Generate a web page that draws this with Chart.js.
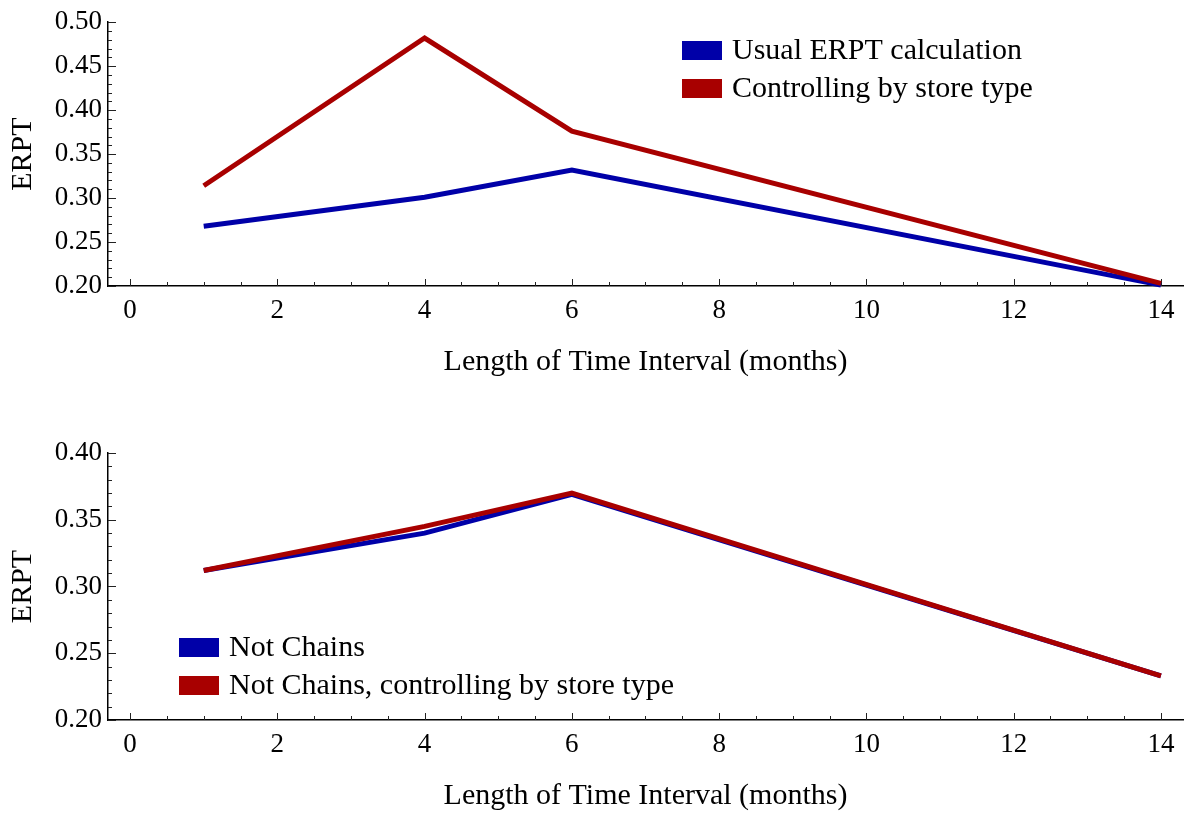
<!DOCTYPE html>
<html>
<head>
<meta charset="utf-8">
<script src="https://cdn.jsdelivr.net/npm/chart.js@4/dist/chart.umd.min.js"></script>
<style>
  body { margin: 0; background: #fff; }
  .wrap { position: relative; width: 1190px; height: 814px; }
  canvas { position: absolute; left: 0; }
  #topChart { top: 0; }
  #bottomChart { top: 400px; }
</style>
</head>
<body>
<div class="wrap">
  <canvas id="topChart" width="1190" height="400"></canvas>
  <canvas id="bottomChart" width="1190" height="414"></canvas>
</div>
<script>
// data
const months = [1, 4, 6, 14];
const usualErpt = [0.268, 0.301, 0.332, 0.201];
const storeTypeErpt = [0.314, 0.482, 0.376, 0.203];
const notChains = [0.312, 0.340, 0.369, 0.233];
const notChainsStoreType = [0.312, 0.345, 0.370, 0.233];

const xTicks = [0, 2, 4, 6, 8, 10, 12, 14];
const topYTicks = [0.20, 0.25, 0.30, 0.35, 0.40, 0.45, 0.50];
const bottomYTicks = [0.20, 0.25, 0.30, 0.35, 0.40];

const BLUE = "#0000a8";
const RED = "#a80000";
const FONT = "'Liberation Serif', 'DejaVu Serif', serif";

// inward tick marks, mathematica style
const innerTicks = {
    id: "innerTicks",
    beforeDatasetsDraw(chart, args, opts) {
        const { ctx, scales: { x, y } } = chart;
        ctx.save();
        ctx.strokeStyle = "#222";
        ctx.lineWidth = 1;
        ctx.beginPath();
        const nx = Math.round((xTicks[xTicks.length - 1] - xTicks[0]) / opts.xMinor);
        for (let i = 0; i <= nx; i++) {
            const px = Math.round(x.getPixelForValue(xTicks[0] + i * opts.xMinor)) + 0.5;
            const len = i % 4 === 0 ? 7 : 4;
            ctx.moveTo(px, y.bottom);
            ctx.lineTo(px, y.bottom - len);
        }
        const yMin = y.min, yMax = y.max;
        const ny = Math.round((yMax - yMin) / opts.yMinor);
        for (let i = 0; i <= ny; i++) {
            const py = Math.round(y.getPixelForValue(yMin + i * opts.yMinor)) + 0.5;
            const len = i % 5 === 0 ? 8 : 4;
            ctx.moveTo(x.left, py);
            ctx.lineTo(x.left + len, py);
        }
        ctx.stroke();
        ctx.restore();
    }
};

// legend drawn inside the plot
const boxLegend = {
    id: "boxLegend",
    afterDraw(chart, args, opts) {
        const ctx = chart.ctx;
        ctx.save();
        ctx.font = "30px " + FONT;
        ctx.textBaseline = "middle";
        chart.data.datasets.forEach((ds, i) => {
            const top = opts.y + i * opts.gap;
            ctx.fillStyle = ds.borderColor;
            ctx.fillRect(opts.x, top, 40, 19);
            ctx.fillStyle = "#000";
            ctx.fillText(ds.label, opts.x + 50, top + 10);
        });
        ctx.restore();
    }
};

function makeChart(id, labels, seriesA, seriesB, yTicks, legendPos, padTop, xHeight, xTitlePad) {
    return new Chart(document.getElementById(id), {
        type: "line",
        data: {
            datasets: [
                {
                    label: labels[0],
                    data: months.map((m, i) => ({ x: m, y: seriesA[i] })),
                    borderColor: BLUE,
                    borderWidth: 5,
                    pointRadius: 0,
                    tension: 0,
                    clip: false,
                    order: 1
                },
                {
                    label: labels[1],
                    data: months.map((m, i) => ({ x: m, y: seriesB[i] })),
                    borderColor: RED,
                    borderWidth: 5,
                    pointRadius: 0,
                    tension: 0,
                    clip: false,
                    order: 0
                }
            ]
        },
        options: {
            responsive: false,
            animation: false,
            layout: { padding: { top: padTop, right: 7, left: 0, bottom: 0 } },
            plugins: {
                legend: { display: false },
                tooltip: { enabled: false },
                innerTicks: { xMinor: 0.5, yMinor: 0.01 },
                boxLegend: legendPos
            },
            scales: {
                x: {
                    type: "linear",
                    min: -0.3,
                    max: 14.3,
                    afterBuildTicks: s => { s.ticks = xTicks.map(v => ({ value: v })); },
                    afterFit: s => { s.height = xHeight; },
                    grid: { display: false, drawTicks: false },
                    border: { display: true, color: "#000", width: 1.5 },
                    ticks: {
                        color: "#000",
                        padding: 9,
                        maxRotation: 0,
                        font: { family: FONT, size: 27 },
                        callback: v => String(v)
                    },
                    title: {
                        display: true,
                        text: "Length of Time Interval (months)",
                        color: "#000",
                        font: { family: FONT, size: 30 },
                        padding: { top: 0, bottom: xTitlePad }
                    }
                },
                y: {
                    min: yTicks[0],
                    max: yTicks[yTicks.length - 1],
                    afterBuildTicks: s => { s.ticks = yTicks.map(v => ({ value: v })); },
                    afterFit: s => { s.width = 108; },
                    grid: { display: false, drawTicks: false },
                    border: { display: true, color: "#000", width: 1.5 },
                    ticks: {
                        color: "#000",
                        padding: 6,
                        font: { family: FONT, size: 27 },
                        callback: v => v.toFixed(2)
                    },
                    title: {
                        display: true,
                        text: "ERPT",
                        color: "#000",
                        font: { family: FONT, size: 30 },
                        padding: { top: 5, bottom: 0 }
                    }
                }
            }
        },
        plugins: [innerTicks, boxLegend]
    });
}

makeChart("topChart", ["Usual ERPT calculation", "Controlling by store type"],
    usualErpt, storeTypeErpt, topYTicks, { x: 682, y: 41, gap: 38 }, 18, 114, 20);

makeChart("bottomChart", ["Not Chains", "Not Chains, controlling by store type"],
    notChains, notChainsStoreType, bottomYTicks, { x: 179, y: 238, gap: 38 }, 53, 94, 0);
</script>
</body>
</html>
